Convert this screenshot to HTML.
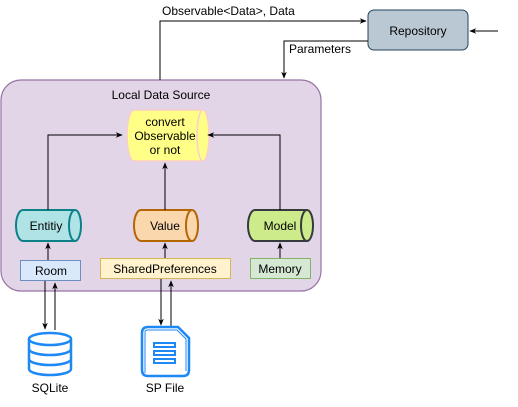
<!DOCTYPE html>
<html><head><meta charset="utf-8"><style>
html,body{margin:0;padding:0;background:#fff;}
svg{display:block;font-family:"Liberation Sans",Arial,sans-serif;}
</style></head><body>
<svg width="518" height="407" viewBox="0 0 518 407" xmlns="http://www.w3.org/2000/svg">
<defs>
<marker id="a" viewBox="0 0 10 10" refX="9" refY="5" markerWidth="7" markerHeight="7" orient="auto"><path d="M0,1 L10,5 L0,9 L3,5 z" fill="#000"/></marker>
</defs>
<!-- container -->
<rect x="1" y="80" width="320" height="211" rx="20" fill="#e1d5e7" stroke="#9673a6" stroke-width="1.2"/>
<text x="161" y="99" font-size="12" text-anchor="middle">Local Data Source</text>
<!-- repository -->
<rect x="368" y="10" width="100" height="40" rx="6" fill="#bac8d3" stroke="#23445d" stroke-width="1"/>
<text x="418" y="35" font-size="12" text-anchor="middle">Repository</text>
<line x1="498" y1="31" x2="470" y2="31" stroke="#000" marker-end="url(#a)"/>
<polyline points="160,80 160,21 366,21" fill="none" stroke="#000" marker-end="url(#a)"/>
<rect x="160" y="4" width="138" height="14" fill="#fff"/>
<text x="162" y="15" font-size="12">Observable&lt;Data&gt;, Data</text>
<polyline points="368,41 284,41 284,78" fill="none" stroke="#000" marker-end="url(#a)"/>
<rect x="287" y="42" width="66" height="14" fill="#fff"/>
<text x="289" y="53" font-size="12">Parameters</text>
<!-- convert cylinder -->
<path d="M134,110 H203 A6,25.5 0 0 1 203,161 H134 A7,25.5 0 0 1 134,110 Z" fill="#ffff88" stroke="#f8cecc" stroke-width="1.5"/>
<path d="M203,110 A6,25.5 0 0 0 203,161" fill="none" stroke="#f8cecc" stroke-width="1.5"/>
<text x="165" y="126" font-size="12" text-anchor="middle">convert</text>
<text x="165" y="140" font-size="12" text-anchor="middle">Observable</text>
<text x="165" y="154" font-size="12" text-anchor="middle">or not</text>
<!-- cylinders -->
<g stroke-width="2">
<path d="M23,210 H75 A6,15.5 0 0 1 75,241 H23 A7,15.5 0 0 1 23,210 Z" fill="#b0e3e6" stroke="#0e8088"/>
<path d="M75,210 A6,15.5 0 0 0 75,241" fill="none" stroke="#0e8088"/>
<path d="M141,210 H192 A6,15.5 0 0 1 192,241 H141 A7,15.5 0 0 1 141,210 Z" fill="#fad7ac" stroke="#b46504"/>
<path d="M192,210 A6,15.5 0 0 0 192,241" fill="none" stroke="#b46504"/>
<path d="M255,210 H307 A6,15.5 0 0 1 307,241 H255 A7,15.5 0 0 1 255,210 Z" fill="#cdeb8b" stroke="#36393d"/>
<path d="M307,210 A6,15.5 0 0 0 307,241" fill="none" stroke="#36393d"/>
</g>
<text x="46" y="230" font-size="12" text-anchor="middle">Entitiy</text>
<text x="165" y="230" font-size="12" text-anchor="middle">Value</text>
<text x="280" y="230" font-size="12" text-anchor="middle">Model</text>
<!-- boxes -->
<rect x="20.5" y="260.5" width="60" height="20" fill="#dae8fc" stroke="#6c8ebf"/>
<text x="51" y="275" font-size="12" text-anchor="middle">Room</text>
<rect x="100.5" y="258.5" width="130" height="20" fill="#fff2cc" stroke="#d6b656"/>
<text x="165" y="273" font-size="12" text-anchor="middle">SharedPreferences</text>
<rect x="250.5" y="258.5" width="60" height="20" fill="#d5e8d4" stroke="#82b366"/>
<text x="280" y="273" font-size="12" text-anchor="middle">Memory</text>
<!-- arrows inside -->
<g fill="none" stroke="#000">
<polyline points="48,210 48,135 122,135" marker-end="url(#a)"/>
<polyline points="280,210 280,135 208,135" marker-end="url(#a)"/>
<line x1="165" y1="210" x2="165" y2="163" marker-end="url(#a)"/>
<line x1="48" y1="260" x2="48" y2="243" marker-end="url(#a)"/>
<line x1="165" y1="258" x2="165" y2="243" marker-end="url(#a)"/>
<line x1="280" y1="258" x2="280" y2="243" marker-end="url(#a)"/>
<line x1="45" y1="281" x2="45" y2="329" marker-end="url(#a)"/>
<line x1="55" y1="330" x2="55" y2="283" marker-end="url(#a)"/>
<line x1="161" y1="279" x2="161" y2="325" marker-end="url(#a)"/>
<line x1="171" y1="326" x2="171" y2="281" marker-end="url(#a)"/>
</g>
<!-- database icon -->
<g fill="#fff" stroke="#1e88f5" stroke-width="2.5">
<path d="M29,339 V369 A21,6 0 0 0 71,369 V339"/>
<ellipse cx="50" cy="339" rx="21" ry="6"/>
<path d="M29,349 A21,6 0 0 0 71,349" fill="none"/>
<path d="M29,359 A21,6 0 0 0 71,359" fill="none"/>
</g>
<text x="50" y="392" font-size="12" text-anchor="middle">SQLite</text>
<!-- file icon -->
<g fill="none" stroke="#1e88f5" stroke-width="2.5">
<path d="M148,327 H178 L189,338 V370 Q189,376 183,376 H148 Q142,376 142,370 V333 Q142,327 148,327 Z"/>
<path d="M145,373 V332 Q145,330 148,330 H177 L186,339 V371" stroke-width="1"/>
<rect x="154" y="343" width="21" height="4" stroke-width="2"/>
<rect x="154" y="351" width="21" height="4" stroke-width="2"/>
<rect x="154" y="359" width="21" height="4" stroke-width="2"/>
</g>
<text x="165" y="392" font-size="12" text-anchor="middle">SP File</text>
</svg>
</body></html>
